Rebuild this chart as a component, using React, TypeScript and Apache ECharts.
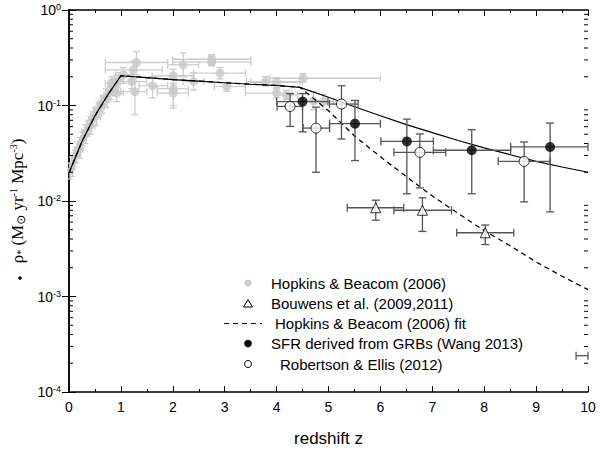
import React, { useEffect, useRef } from "react";
import * as echarts from "echarts";

// [z, rho, zLow, zHigh, rhoLow, rhoHigh]
const hopkinsLowZ: number[][] = [
  [0.02, 0.021, 0.0, 0.05, 0.017, 0.025],
  [0.05, 0.024, 0.02, 0.08, 0.019, 0.029],
  [0.07, 0.022, 0.04, 0.1, 0.018, 0.027],
  [0.1, 0.028, 0.07, 0.13, 0.023, 0.034],
  [0.12, 0.031, 0.08, 0.16, 0.025, 0.037],
  [0.15, 0.03, 0.1, 0.2, 0.025, 0.036],
  [0.17, 0.035, 0.12, 0.22, 0.029, 0.042],
  [0.2, 0.038, 0.15, 0.25, 0.031, 0.046],
  [0.22, 0.034, 0.17, 0.27, 0.028, 0.041],
  [0.25, 0.044, 0.2, 0.3, 0.036, 0.053],
  [0.28, 0.046, 0.22, 0.34, 0.038, 0.056],
  [0.3, 0.052, 0.24, 0.36, 0.043, 0.063],
  [0.33, 0.049, 0.27, 0.39, 0.04, 0.059],
  [0.36, 0.058, 0.3, 0.42, 0.048, 0.07],
  [0.4, 0.064, 0.33, 0.47, 0.053, 0.077],
  [0.43, 0.06, 0.36, 0.5, 0.05, 0.072],
  [0.45, 0.072, 0.38, 0.52, 0.06, 0.086],
  [0.5, 0.08, 0.42, 0.58, 0.066, 0.096],
  [0.53, 0.075, 0.45, 0.61, 0.062, 0.09],
  [0.55, 0.09, 0.47, 0.63, 0.075, 0.108],
  [0.6, 0.095, 0.52, 0.68, 0.079, 0.114],
  [0.62, 0.105, 0.54, 0.7, 0.087, 0.126],
  [0.65, 0.1, 0.57, 0.73, 0.083, 0.12],
  [0.7, 0.125, 0.62, 0.78, 0.104, 0.15],
  [0.73, 0.115, 0.65, 0.81, 0.095, 0.138],
  [0.75, 0.13, 0.67, 0.83, 0.108, 0.156],
  [0.8, 0.14, 0.72, 0.88, 0.116, 0.168],
  [0.83, 0.155, 0.75, 0.91, 0.128, 0.186],
  [0.87, 0.16, 0.79, 0.95, 0.133, 0.192],
  [0.9, 0.17, 0.82, 0.98, 0.141, 0.204],
  [0.95, 0.185, 0.87, 1.03, 0.153, 0.222],
];

const hopkinsPoints: number[][] = [
  [1.3, 0.282, 0.7, 1.9, 0.21, 0.367],
  [1.24, 0.236, 0.7, 1.8, 0.19, 0.29],
  [1.05, 0.209, 0.9, 1.2, 0.17, 0.25],
  [1.21, 0.178, 1.0, 1.5, 0.15, 0.21],
  [1.27, 0.14, 1.0, 1.5, 0.08, 0.18],
  [0.92, 0.135, 0.8, 1.05, 0.11, 0.16],
  [0.82, 0.171, 0.7, 0.95, 0.145, 0.2],
  [1.61, 0.161, 1.35, 1.9, 0.12, 0.2],
  [2.01, 0.205, 1.6, 2.4, 0.17, 0.24],
  [2.01, 0.15, 1.7, 2.3, 0.094, 0.2],
  [2.01, 0.135, 1.7, 2.3, 0.1, 0.17],
  [2.2, 0.267, 1.9, 2.5, 0.2, 0.355],
  [2.75, 0.285, 2.0, 3.5, 0.26, 0.33],
  [2.75, 0.305, 2.0, 3.5, 0.27, 0.34],
  [2.4, 0.178, 2.2, 2.6, 0.145, 0.22],
  [2.91, 0.218, 2.4, 3.4, 0.19, 0.25],
  [3.04, 0.158, 2.8, 3.4, 0.14, 0.175],
  [3.79, 0.178, 3.42, 4.45, 0.16, 0.2],
  [4.0, 0.175, 3.5, 4.5, 0.155, 0.195],
  [4.0, 0.135, 3.4, 4.3, 0.12, 0.15],
  [4.19, 0.129, 4.0, 4.4, 0.115, 0.145],
  [4.51, 0.193, 3.87, 6.0, 0.175, 0.215],
  [4.71, 0.112, 4.5, 4.95, 0.09, 0.14],
  [4.9, 0.11, 4.75, 5.1, 0.09, 0.13],
];

const bouwens: number[][] = [
  [5.91, 0.0085, 5.36, 6.45, 0.0063, 0.0102],
  [6.81, 0.008, 6.26, 7.37, 0.0048, 0.0108],
  [8.02, 0.00465, 7.47, 8.57, 0.0035, 0.0056],
];

const wang2013: number[][] = [
  [4.5, 0.11, 4.0, 4.99, 0.053, 0.133],
  [5.51, 0.0645, 5.02, 6.0, 0.0265, 0.113],
  [6.51, 0.0421, 6.01, 7.02, 0.0119, 0.072],
  [7.76, 0.034, 7.02, 8.51, 0.0119, 0.0558],
  [9.27, 0.0368, 8.51, 10.0, 0.0077, 0.0655],
];

const robertsonEllis: number[][] = [
  [4.26, 0.0977, 4.01, 4.5, 0.0604, 0.133],
  [4.76, 0.058, 4.51, 5.02, 0.02, 0.096],
  [5.25, 0.1035, 5.02, 5.57, 0.0446, 0.161],
  [6.76, 0.0323, 6.26, 7.26, 0.0137, 0.0503],
  [8.77, 0.026, 8.27, 9.27, 0.0098, 0.0415],
];

// error bar of a point lying beyond z = 10 (only its left part is inside the frame)
const offscaleBar: number[][] = [[10.0, 0.00024, 9.77, 10.0, 0.00024, 0.00024]];

const solidCurve: number[][] = [
  [0, 0.0197], [0.25, 0.042], [0.5, 0.078], [0.75, 0.13], [1.0, 0.205],
  [1.5, 0.196], [2, 0.187], [2.5, 0.18], [3, 0.173], [3.5, 0.167], [4, 0.162],
  [4.45, 0.155], [5, 0.122], [5.5, 0.097], [6, 0.078], [6.5, 0.063], [7, 0.052],
  [7.5, 0.043], [8, 0.036], [8.5, 0.0305], [9, 0.026], [9.5, 0.0227], [10, 0.02],
];

const fitCurve: number[][] = [
  [0, 0.0197], [0.25, 0.042], [0.5, 0.078], [0.75, 0.13], [1.0, 0.205],
  [1.5, 0.196], [2, 0.187], [2.5, 0.18], [3, 0.173], [3.5, 0.167], [4, 0.162],
  [4.45, 0.155], [5, 0.088], [5.5, 0.048], [6, 0.029], [6.5, 0.018], [7, 0.0113],
  [7.5, 0.0074], [8, 0.0049], [8.5, 0.0034], [9, 0.0023], [9.5, 0.00163], [10, 0.00118],
];

const xTicks = [0, 1, 2, 3, 4, 5, 6, 7, 8, 9, 10];
const yDecades = [-4, -3, -2, -1, 0];

const legendLabels = [
  "Hopkins & Beacom (2006)",
  "Bouwens et al. (2009,2011)",
  "Hopkins & Beacom (2006) fit",
  "SFR derived from GRBs (Wang 2013)",
  "Robertson & Ellis (2012)",
];

const SANS = "'Liberation Sans', Arial, sans-serif";
const SERIF = "'Liberation Serif', 'Times New Roman', serif";

function errorBarRender(color: string, cap: number, width: number) {
  return (params: any, api: any) => {
    const x = api.value(0);
    const y = api.value(1);
    const xlo = api.value(2);
    const xhi = api.value(3);
    const ylo = api.value(4);
    const yhi = api.value(5);
    const st = { stroke: color, lineWidth: width, fill: null };
    const children: any[] = [];
    if (ylo !== yhi) {
      const a = api.coord([x, ylo]);
      const b = api.coord([x, yhi]);
      children.push({ type: "line", shape: { x1: a[0], y1: a[1], x2: b[0], y2: b[1] }, style: st });
      children.push({ type: "line", shape: { x1: a[0] - cap, y1: a[1], x2: a[0] + cap, y2: a[1] }, style: st });
      children.push({ type: "line", shape: { x1: b[0] - cap, y1: b[1], x2: b[0] + cap, y2: b[1] }, style: st });
    }
    if (xlo !== xhi) {
      const a = api.coord([xlo, y]);
      const b = api.coord([xhi, y]);
      children.push({ type: "line", shape: { x1: a[0], y1: a[1], x2: b[0], y2: b[1] }, style: st });
      children.push({ type: "line", shape: { x1: a[0], y1: a[1] - cap, x2: a[0], y2: a[1] + cap }, style: st });
      children.push({ type: "line", shape: { x1: b[0], y1: b[1] - cap, x2: b[0], y2: b[1] + cap }, style: st });
    }
    return { type: "group", children };
  };
}

export default function App() {
  const ref = useRef<HTMLDivElement>(null);

  useEffect(() => {
    if (!ref.current) return;
    const chart = echarts.init(ref.current, null, { renderer: "svg" });

    const minorTickValues: number[][] = [];
    for (let d = -4; d < 0; d++) {
      for (let k = 2; k <= 9; k++) minorTickValues.push([0, k * Math.pow(10, d)]);
    }

    const axisLine = { show: true, lineStyle: { color: "#000", width: 1.5 } };

    const legendRowY = [283, 303.5, 323.5, 343.5, 364];
    const legendTextX = [271, 271, 275, 271, 280];

    const option: any = {
      animation: false,
      backgroundColor: "#fff",
      grid: { left: 69, right: 28, top: 10, bottom: 59, containLabel: false },
      xAxis: [
        {
          type: "value",
          min: 0,
          max: 10,
          interval: 1,
          position: "bottom",
          axisLine,
          axisTick: { show: true, inside: true, length: 6, lineStyle: { color: "#000", width: 1 } },
          minorTick: { show: true, splitNumber: 2, length: 3, lineStyle: { color: "#000", width: 1 } },
          splitLine: { show: false },
          axisLabel: {
            margin: 8,
            fontSize: 14,
            fontFamily: SANS,
            color: "#000",
            formatter: (v: number) => (xTicks.includes(v) ? String(v) : ""),
          },
          name: "redshift z",
          nameLocation: "middle",
          nameGap: 38,
          nameTextStyle: { fontSize: 17, fontFamily: SANS, color: "#000" },
        },
        {
          type: "value",
          min: 0,
          max: 10,
          interval: 1,
          position: "top",
          axisLine,
          axisTick: { show: true, inside: true, length: 6, lineStyle: { color: "#000", width: 1 } },
          minorTick: { show: true, splitNumber: 2, length: 3, lineStyle: { color: "#000", width: 1 } },
          splitLine: { show: false },
          axisLabel: { show: false },
        },
      ],
      yAxis: [
        {
          type: "log",
          logBase: 10,
          min: 1e-4,
          max: 1,
          position: "left",
          axisLine,
          axisTick: { show: true, inside: true, length: 7, lineStyle: { color: "#000", width: 1 } },
          minorTick: { show: false },
          splitLine: { show: false },
          axisLabel: {
            margin: 8,
            formatter: (v: number) => {
              const e = Math.round(Math.log10(v));
              if (!yDecades.includes(e)) return "";
              return `{b|10}{s|${e}}`;
            },
            rich: {
              b: { fontSize: 14, fontFamily: SANS, color: "#000" },
              s: { fontSize: 9, fontFamily: SANS, color: "#000", verticalAlign: "top", padding: [0, 0, 6, 0] },
            },
          },
          name:
            "{r|ρ}{sub|*}{t| (M}{sun|⊙}{t| yr}{sup|-1}{t| Mpc}{sup|-3}{t|)}",
          nameLocation: "middle",
          nameRotate: 90,
          nameGap: 30,
          nameTextStyle: {
            rich: {
              r: { fontSize: 17, fontFamily: SERIF, color: "#000" },
              t: { fontSize: 17, fontFamily: SERIF, color: "#000" },
              sub: { fontSize: 10, fontFamily: SERIF, color: "#000", padding: [6, 0, 0, 0] },
              sun: { fontSize: 12, fontFamily: "'DejaVu Sans', sans-serif", color: "#000", padding: [6, 0, 0, 0] },
              sup: { fontSize: 10, fontFamily: SERIF, color: "#000", padding: [0, 0, 8, 0] },
            },
          },
        },
        {
          type: "log",
          logBase: 10,
          min: 1e-4,
          max: 1,
          position: "right",
          axisLine,
          axisTick: { show: true, inside: true, length: 7, lineStyle: { color: "#000", width: 1 } },
          minorTick: { show: false },
          splitLine: { show: false },
          axisLabel: { show: false },
        },
      ],
      graphic: [
        { type: "circle", shape: { cx: 20, cy: 278, r: 1.8 }, style: { fill: "#000" } },
        { type: "circle", shape: { cx: 248, cy: legendRowY[0], r: 3.5 }, style: { fill: "#c8c8c8" } },
        {
          type: "polygon",
          shape: { points: [[243.5, legendRowY[1] + 3.5], [252.5, legendRowY[1] + 3.5], [248, legendRowY[1] - 4]] },
          style: { fill: "#fff", stroke: "#000", lineWidth: 1 },
        },
        {
          type: "line",
          shape: { x1: 224, y1: legendRowY[2], x2: 262, y2: legendRowY[2] },
          style: { stroke: "#000", lineWidth: 1.2, lineDash: [5, 4] },
        },
        { type: "circle", shape: { cx: 248, cy: legendRowY[3], r: 3.8 }, style: { fill: "#000" } },
        { type: "circle", shape: { cx: 248, cy: legendRowY[4], r: 3.5 }, style: { fill: "#fff", stroke: "#000", lineWidth: 1 } },
        ...legendLabels.map((t, i) => ({
          type: "text",
          x: legendTextX[i],
          y: legendRowY[i],
          style: { text: t, fontSize: 15, fontFamily: SANS, fill: "#000", verticalAlign: "middle", align: "left" },
        })),
      ],
      series: [
        {
          type: "custom",
          name: "yMinorTicks",
          coordinateSystem: "cartesian2d",
          data: minorTickValues,
          encode: { x: 0, y: 1 },
          silent: true,
          z: 10,
          renderItem: (params: any, api: any) => {
            const l = api.coord([0, api.value(1)]);
            const r = api.coord([10, api.value(1)]);
            const st = { stroke: "#000", lineWidth: 1 };
            return {
              type: "group",
              children: [
                { type: "line", shape: { x1: l[0], y1: l[1], x2: l[0] + 4, y2: l[1] }, style: st },
                { type: "line", shape: { x1: r[0] - 4, y1: r[1], x2: r[0], y2: r[1] }, style: st },
              ],
            };
          },
        },
        {
          type: "custom",
          name: "hbLowErr",
          data: hopkinsLowZ,
          encode: { x: 0, y: 1 },
          z: 1,
          silent: true,
          renderItem: errorBarRender("#cccccc", 2.5, 1.2),
        },
        {
          type: "custom",
          name: "hbErr",
          data: hopkinsPoints,
          encode: { x: 0, y: 1 },
          z: 1,
          silent: true,
          renderItem: errorBarRender("#cccccc", 3.5, 1.3),
        },
        {
          type: "scatter",
          name: "Hopkins & Beacom (2006) low z",
          data: hopkinsLowZ.map((d) => [d[0], d[1]]),
          symbol: "circle",
          symbolSize: 6,
          itemStyle: { color: "#c8c8c8" },
          z: 2,
        },
        {
          type: "scatter",
          name: "Hopkins & Beacom (2006)",
          data: hopkinsPoints.map((d) => [d[0], d[1]]),
          symbol: "circle",
          symbolSize: 9,
          itemStyle: { color: "#c8c8c8" },
          z: 2,
        },
        {
          type: "line",
          name: "Hopkins & Beacom (2006) fit",
          data: fitCurve,
          showSymbol: false,
          symbol: "none",
          lineStyle: { color: "#000", width: 1.3, type: [5, 4] },
          z: 3,
        },
        {
          type: "line",
          name: "model",
          data: solidCurve,
          showSymbol: false,
          symbol: "none",
          lineStyle: { color: "#000", width: 1.2 },
          z: 3,
        },
        {
          type: "custom",
          name: "darkErr",
          data: [...bouwens, ...wang2013, ...robertsonEllis, ...offscaleBar],
          encode: { x: 0, y: 1 },
          z: 4,
          silent: true,
          renderItem: errorBarRender("#555555", 4, 1.3),
        },
        {
          type: "scatter",
          name: "Bouwens et al. (2009,2011)",
          data: bouwens.map((d) => [d[0], d[1]]),
          symbol: "triangle",
          symbolSize: 10,
          itemStyle: { color: "#fff", borderColor: "#000", borderWidth: 1 },
          z: 5,
        },
        {
          type: "scatter",
          name: "SFR derived from GRBs (Wang 2013)",
          data: wang2013.map((d) => [d[0], d[1]]),
          symbol: "circle",
          symbolSize: 10,
          itemStyle: { color: "#000" },
          z: 5,
        },
        {
          type: "scatter",
          name: "Robertson & Ellis (2012)",
          data: robertsonEllis.map((d) => [d[0], d[1]]),
          symbol: "circle",
          symbolSize: 10,
          itemStyle: { color: "#fff", borderColor: "#000", borderWidth: 1 },
          z: 5,
        },
      ],
    };

    chart.setOption(option);
    return () => chart.dispose();
  }, []);

  return (
    <div
      ref={ref}
      style={{ position: "fixed", left: 0, top: 0, width: 616, height: 452 }}
    />
  );
}
